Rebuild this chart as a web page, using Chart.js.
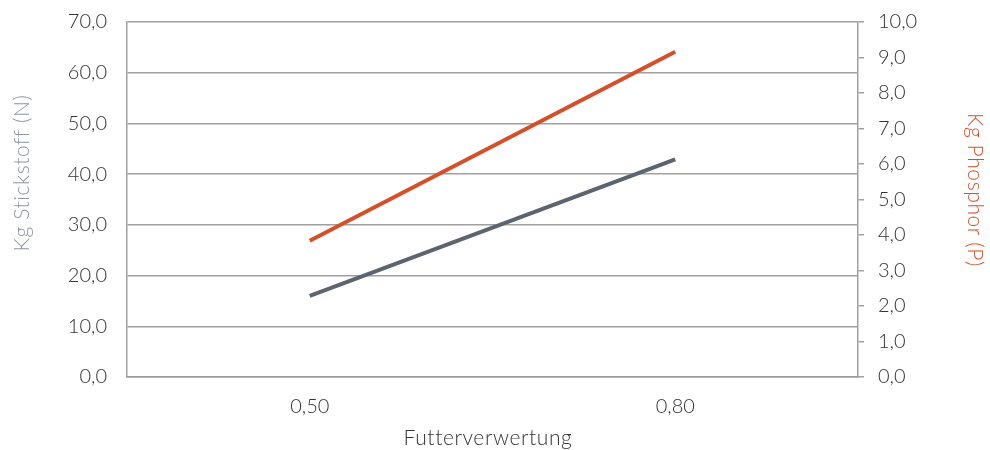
<!DOCTYPE html>
<html>
<head>
<meta charset="utf-8">
<script src="https://cdn.jsdelivr.net/npm/chart.js@4/dist/chart.umd.min.js"></script>
<style>
  html, body { margin: 0; padding: 0; background: #fff; }
  #wrap { width: 990px; height: 450px; position: relative; }
</style>
</head>
<body>
<div id="wrap"><canvas id="futterChart"></canvas></div>
<script>
const kategorien = ['0,50', '0,80'];
const stickstoff = [16.0, 42.9];
const phosphor = [3.84, 9.16];
const titelLinks = 'Kg Stickstoff (N)';
const titelRechts = 'Kg Phosphor (P)';
const titelX = 'Futterverwertung';

const grau = '#5d646e';
const orange = '#d4502a';
const schrift = 'Lato, "Open Sans", sans-serif';

// Achsentitel selbst zeichnen, damit die Position passt
const achsenTitel = {
    id: 'achsenTitel',
    afterDraw(chart) {
        const c = chart.ctx;
        c.save();
        c.font = '300 21px ' + schrift;
        c.letterSpacing = '0.6px';
        c.textAlign = 'center';
        c.textBaseline = 'middle';

        c.save();
        c.translate(22, 173);
        c.rotate(-Math.PI / 2);
        c.fillStyle = '#8d959d';
        c.fillText(titelLinks, 0, 0);
        c.restore();

        c.save();
        c.translate(975, 190);
        c.rotate(Math.PI / 2);
        c.fillStyle = orange;
        c.fillText(titelRechts, 0, 0);
        c.restore();

        c.fillStyle = '#333';
        c.fillText(titelX, 488, 438);

        c.restore();
    }
};

const tickFont = { family: schrift, size: 20, weight: '300' };

// Label-Polster der y-Achsen entfernen, damit oben das Layout-Padding gilt
const ohnePolster = (scale, breite) => {
    scale.width = breite;
    scale.paddingTop = 0;
    scale.paddingBottom = 0;
};

const ctx = document.getElementById('futterChart').getContext('2d');
new Chart(ctx, {
    type: 'line',
    data: {
        labels: kategorien,
        datasets: [
            {
                label: 'Stickstoff',
                data: stickstoff,
                borderColor: grau,
                borderWidth: 4,
                pointRadius: 0,
                yAxisID: 'yN'
            },
            {
                label: 'Phosphor',
                data: phosphor,
                borderColor: orange,
                borderWidth: 4,
                pointRadius: 0,
                yAxisID: 'yP'
            }
        ]
    },
    options: {
        responsive: true,
        maintainAspectRatio: false,
        animation: false,
        layout: { padding: { top: 22, left: 0, right: 0, bottom: 0 } },
        plugins: {
            legend: { display: false },
            tooltip: { enabled: false }
        },
        scales: {
            x: {
                offset: true,
                grid: { display: false, offset: true },
                border: { color: '#9a9a9a', width: 1.5 },
                ticks: {
                    color: '#333',
                    font: tickFont,
                    padding: 10
                },
                afterFit: (scale) => { scale.height = 73; }
            },
            yN: {
                position: 'left',
                min: 0,
                max: 70,
                ticks: {
                    stepSize: 10,
                    color: '#333',
                    padding: 20,
                    font: tickFont,
                    callback: (v) => v.toFixed(1).replace('.', ',')
                },
                grid: { color: '#a0a0a0', lineWidth: 1.5, drawTicks: false },
                border: { color: '#a0a0a0', width: 1.5 },
                afterFit: (scale) => ohnePolster(scale, 127)
            },
            yP: {
                position: 'right',
                min: 0,
                max: 10,
                ticks: {
                    stepSize: 1,
                    color: '#333',
                    padding: 14,
                    font: tickFont,
                    callback: (v) => v.toFixed(1).replace('.', ',')
                },
                grid: { drawOnChartArea: false, color: '#a0a0a0', lineWidth: 1.5, tickLength: 6 },
                border: { color: '#a0a0a0', width: 1.5 },
                afterFit: (scale) => ohnePolster(scale, 132)
            }
        }
    },
    plugins: [achsenTitel]
});
</script>
</body>
</html>
